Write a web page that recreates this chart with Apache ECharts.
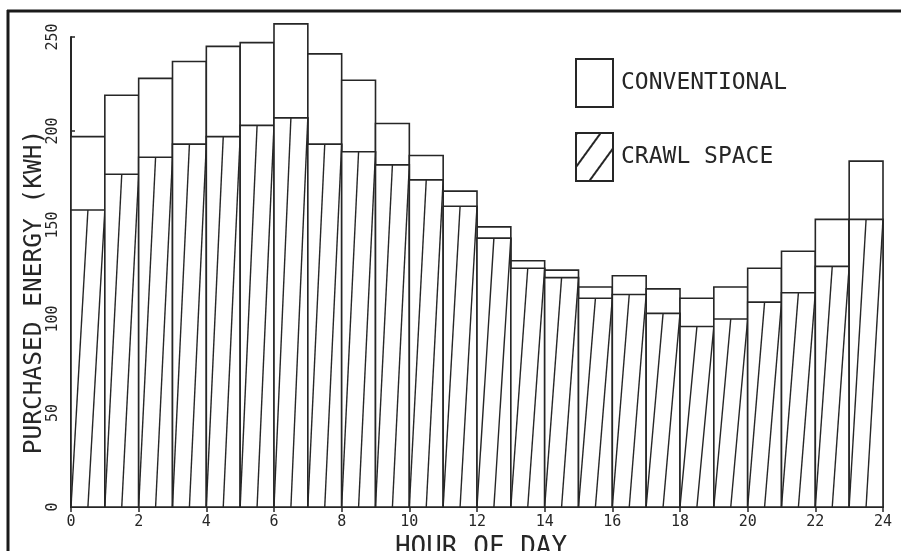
<!DOCTYPE html>
<html>
<head>
<meta charset="utf-8">
<script src="https://cdn.jsdelivr.net/npm/echarts@6/dist/echarts.min.js"></script>
<style>
html,body{margin:0;padding:0;background:#fff;}
#chart{width:901px;height:551px;}
</style>
</head>
<body>
<div id="chart"></div>
<script>
// Hour of day (start of each one-hour bar)
const hours = [0,1,2,3,4,5,6,7,8,9,10,11,12,13,14,15,16,17,18,19,20,21,22,23];
// Purchased energy (KWH)
const conventional = [197,219,228,237,245,247,257,241,227,204,187,168,149,131,126,117,123,116,111,117,127,136,153,184];
const crawlSpace   = [158,177,186,193,197,203,207,193,189,182,174,160,143,127,122,111,113,103, 96,100,109,114,128,153];
const xTicks = [0,2,4,6,8,10,12,14,16,18,20,22,24];
const yTicks = [0,50,100,150,200,250];
const seriesNames = ['CONVENTIONAL','CRAWL SPACE'];

const INK = '#262626';
const FONT = '"DejaVu Sans Mono", monospace';

const convData = hours.map((h, i) => [h, conventional[i]]);
const crawlData = hours.map((h, i) => [h, crawlSpace[i]]);

function barRect(api) {
  const h = api.value(0), v = api.value(1);
  const p0 = api.coord([h, 0]);
  const p1 = api.coord([h + 1, v]);
  return {x0: p0[0], x1: p1[0], yb: p0[1], yt: p1[1]};
}

function renderConv(params, api) {
  const r = barRect(api);
  return {
    type: 'rect',
    shape: {x: r.x0, y: r.yt, width: r.x1 - r.x0, height: r.yb - r.yt},
    style: {fill: '#fff', stroke: INK, lineWidth: 1.6}
  };
}

function renderCrawl(params, api) {
  const r = barRect(api);
  const xm = (r.x0 + r.x1) / 2;
  return {
    type: 'group',
    children: [
      {type: 'rect', shape: {x: r.x0, y: r.yt, width: r.x1 - r.x0, height: r.yb - r.yt},
       style: {fill: '#fff', stroke: INK, lineWidth: 1.6}},
      {type: 'line', shape: {x1: r.x0, y1: r.yb, x2: xm, y2: r.yt}, style: {stroke: INK, lineWidth: 1.4}},
      {type: 'line', shape: {x1: xm, y1: r.yb, x2: r.x1, y2: r.yt}, style: {stroke: INK, lineWidth: 1.4}}
    ]
  };
}

const chart = echarts.init(document.getElementById('chart'), null, {renderer: 'canvas'});
chart.setOption({
  backgroundColor: '#fff',
  animation: false,
  grid: {left: 71, right: 18, top: 37, bottom: 44, outerBoundsMode: 'none', containLabel: false},
  legend: {
    orient: 'vertical',
    left: 575, top: 58, padding: 0,
    itemWidth: 37, itemHeight: 48, itemGap: 24,
    icon: 'rect',
    selectedMode: false,
    data: seriesNames,
    textStyle: {fontFamily: FONT, fontSize: 23, color: INK, padding: [0,0,0,3]}
  },
  xAxis: {
    type: 'value', min: 0, max: 24, interval: 2,
    name: 'HOUR OF DAY', nameLocation: 'middle', nameGap: 28,
    nameTextStyle: {fontFamily: FONT, fontSize: 26, color: INK, padding: [0,0,0,8]},
    axisLine: {show: true, onZero: false, lineStyle: {color: INK, width: 2}},
    axisTick: {show: true, length: 5, lineStyle: {color: INK, width: 1.5}},
    axisLabel: {fontFamily: FONT, fontSize: 15, color: INK, margin: 8,
      formatter: v => xTicks.indexOf(v) >= 0 ? String(v) : ''},
    splitLine: {show: false}
  },
  yAxis: {
    type: 'value', min: 0, max: 250, interval: 50,
    name: 'PURCHASED ENERGY (KWH)', nameLocation: 'middle', nameGap: 24, nameRotate: 90,
    nameMoveOverlap: false,
    nameTextStyle: {fontFamily: FONT, fontSize: 24.5, color: INK, padding: [0,40,0,0]},
    axisLine: {show: true, lineStyle: {color: INK, width: 2}},
    axisTick: {show: true, inside: true, length: 4, lineStyle: {color: INK, width: 1.5}},
    axisLabel: {fontFamily: FONT, fontSize: 15, color: INK, rotate: 90, margin: 10,
      formatter: v => yTicks.indexOf(v) >= 0 ? String(v) : ''},
    splitLine: {show: false}
  },
  graphic: [
    {type: 'line', silent: true, z: 100, shape: {x1: 7, y1: 11, x2: 901, y2: 11}, style: {stroke: '#1a1a1a', lineWidth: 3}},
    {type: 'line', silent: true, z: 100, shape: {x1: 8, y1: 10, x2: 8, y2: 551}, style: {stroke: '#1a1a1a', lineWidth: 3}}
  ],
  series: [
    {
      name: seriesNames[0], type: 'custom', renderItem: renderConv, data: convData, clip: false,
      encode: {x: 0, y: 1},
      itemStyle: {color: '#fff', borderColor: INK, borderWidth: 1.6}
    },
    {
      name: seriesNames[1], type: 'custom', renderItem: renderCrawl, data: crawlData, clip: false,
      encode: {x: 0, y: 1},
      itemStyle: {color: '#fff', borderColor: INK, borderWidth: 1.6,
        decal: {symbol: 'rect', symbolSize: 1, color: INK, backgroundColor: null,
          dashArrayX: [1, 0], dashArrayY: [1.6, 17], rotation: -Math.PI * 0.3}}
    }
  ]
});
</script>
</body>
</html>
